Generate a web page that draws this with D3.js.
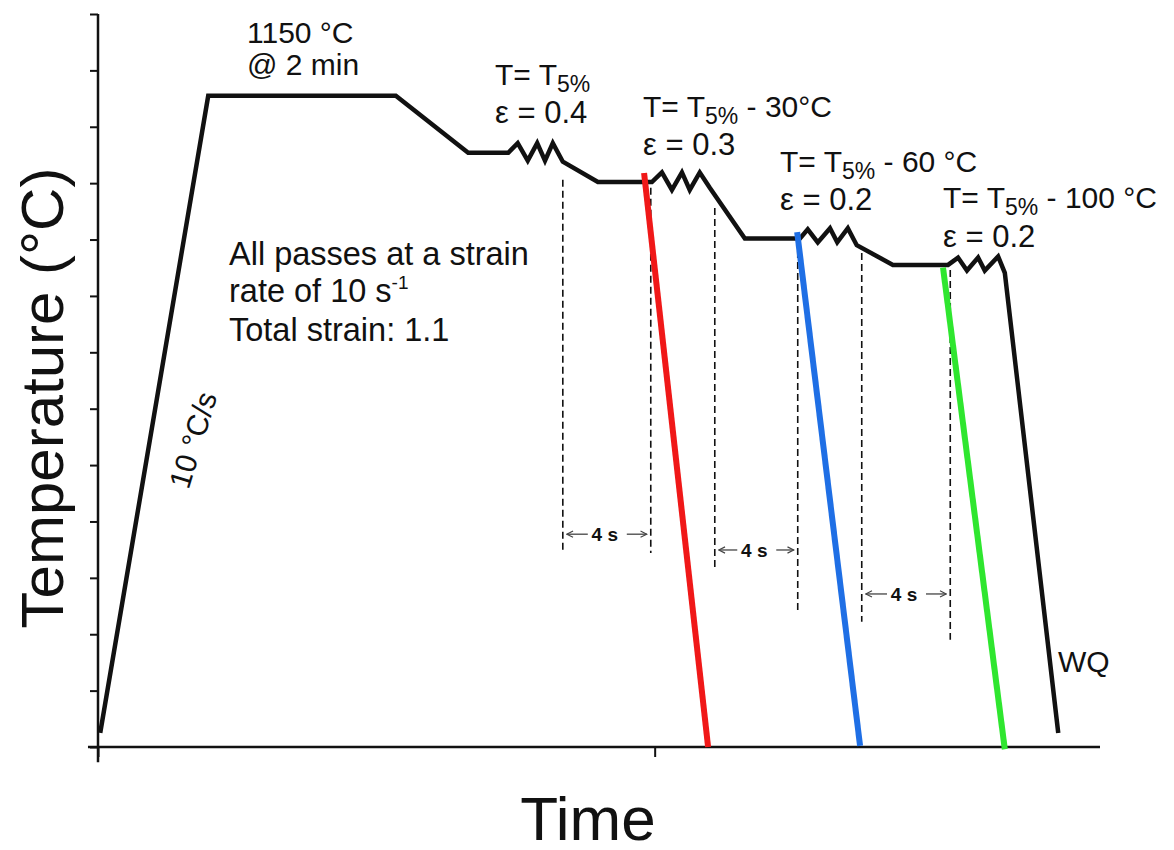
<!DOCTYPE html>
<html>
<head>
<meta charset="utf-8">
<style>
  body { margin: 0; background: #fff; }
  text { font-family: Arial, "Liberation Sans", sans-serif; fill: #111; }
</style>
</head>
<body>
<div id="chart"></div>
<script src="https://d3js.org/d3.v7.min.js"></script>
<script>
// Thermomechanical schedule: time (arbitrary units) vs temperature (°C)
const profileTime = [0.04, 1.98, 5.35, 6.65, 7.37, 7.54, 7.72, 7.89, 8.03, 8.17, 8.35, 8.98,
  9.95, 10.13, 10.31, 10.49, 10.63, 10.81, 10.99, 11.62,
  12.61, 12.75, 12.93, 13.15, 13.28, 13.47, 13.63, 14.28,
  15.27, 15.45, 15.61, 15.81, 15.93, 16.17, 16.29, 17.25];
const profileTemp = [25, 1155, 1155, 1054, 1054, 1071, 1040, 1071, 1040, 1071, 1038, 1002,
  1002, 1019, 988, 1019, 988, 1019, 992, 902,
  902, 918, 895, 920, 895, 920, 890, 855,
  855, 868, 845, 868, 845, 870, 841, 25];

// quench lines after each pass
const quenchStartTime = [9.81, 12.56, 15.18];
const quenchStartTemp = [1018, 913, 850];
const quenchEndTime = [10.96, 13.69, 16.29];
const quenchEndTemp = [0, 2, -4];
const quenchColors = ["#f01818", "#1f6fe5", "#2fe62f"];

// dashed markers for the 4 s holds
const markerTime = [8.35, 9.93, 11.08, 12.57, 13.72, 15.31];
const markerTop = [1006, 992, 956, 899, 876, 846];
const markerBottom = [344, 344, 317, 239, 222, 190];

const holdStart = [8.35, 11.08, 13.72];
const holdEnd = [9.93, 12.57, 15.31];
const holdTemp = [365, 337, 259];
const holdLabel = ["4 s", "4 s", "4 s"];

// pass annotations
const passPrefix = ["T= T", "T= T", "T= T", "T= T"];
const passSuffix = ["", " - 30°C", " - 60 °C", " - 100 °C"];
const passStrain = ["ε = 0.4", "ε = 0.3", "ε = 0.2", "ε = 0.2"];

const yTicks = d3.range(0, 1301, 100);
const xTicks = [0, 10];

const W = 1174, H = 850;
const svg = d3.select("#chart").append("svg").attr("width", W).attr("height", H);

const x = d3.scaleLinear().domain([0, 18]).range([98, 1100]);
const y = d3.scaleLinear().domain([0, 1300]).range([747, 14]);

// arrowhead for the hold spans
svg.append("defs").append("marker")
  .attr("id", "arr")
  .attr("viewBox", "0 0 10 10")
  .attr("refX", 9).attr("refY", 5)
  .attr("markerWidth", 6).attr("markerHeight", 6)
  .attr("orient", "auto-start-reverse")
  .append("path")
  .attr("d", "M1,1 L9,5 L1,9")
  .attr("fill", "none")
  .attr("stroke", "#444")
  .attr("stroke-width", 1.5);

// axes
const yAxis = svg.append("g")
  .attr("transform", "translate(" + x(0) + ",0)")
  .call(d3.axisLeft(y).tickValues(yTicks).tickSize(8).tickSizeOuter(0).tickFormat(""));
yAxis.select(".domain").remove();
yAxis.selectAll("line").attr("stroke", "#111").attr("stroke-width", 2);

const xAxis = svg.append("g")
  .attr("transform", "translate(0," + y(0) + ")")
  .call(d3.axisBottom(x).tickValues(xTicks).tickSize(10).tickSizeOuter(0).tickFormat(""));
xAxis.select(".domain").remove();
xAxis.selectAll("line").attr("stroke", "#111").attr("stroke-width", 2);

svg.append("line")
  .attr("x1", x(0)).attr("x2", x(0))
  .attr("y1", y(1300)).attr("y2", y(-27))
  .attr("stroke", "#111").attr("stroke-width", 2.5);
svg.append("line")
  .attr("x1", x(-0.18)).attr("x2", x(18))
  .attr("y1", y(0)).attr("y2", y(0))
  .attr("stroke", "#111").attr("stroke-width", 2.5);

// dashed markers
svg.selectAll(".marker")
  .data(markerTime)
  .enter()
  .append("line")
  .attr("class", "marker")
  .attr("x1", d => x(d)).attr("x2", d => x(d))
  .attr("y1", (d, i) => y(markerTop[i]))
  .attr("y2", (d, i) => y(markerBottom[i]))
  .attr("stroke", "#111")
  .attr("stroke-width", 1.6)
  .attr("stroke-dasharray", "7,4");

// hold labels with arrows
holdLabel.forEach(function (lab, i) {
  const x1 = x(holdStart[i]), x2 = x(holdEnd[i]);
  const m = (x1 + x2) / 2;
  const by = y(holdTemp[i]);
  svg.append("text")
    .attr("x", m - 2).attr("y", by)
    .attr("text-anchor", "middle")
    .style("font-size", "19px")
    .style("font-weight", "bold")
    .text(lab);
  [[x1 + 4, m - 19], [m + 20, x2 - 4]].forEach(function (seg, k) {
    svg.append("line")
      .attr("x1", k === 0 ? seg[1] : seg[0]).attr("x2", k === 0 ? seg[0] : seg[1])
      .attr("y1", by - 7).attr("y2", by - 7)
      .attr("stroke", "#444").attr("stroke-width", 1.3)
      .attr("marker-end", "url(#arr)");
  });
});

// profile
const line = d3.line()
  .x(d => x(d[0]))
  .y(d => y(d[1]));

svg.append("path")
  .datum(profileTime.map((t, i) => [t, profileTemp[i]]))
  .attr("d", line)
  .attr("fill", "none")
  .attr("stroke", "#111")
  .attr("stroke-width", 4.5)
  .attr("stroke-linejoin", "miter");

// quench lines
svg.selectAll(".quench")
  .data(quenchStartTime)
  .enter()
  .append("line")
  .attr("class", "quench")
  .attr("x1", d => x(d))
  .attr("y1", (d, i) => y(quenchStartTemp[i]))
  .attr("x2", (d, i) => x(quenchEndTime[i]))
  .attr("y2", (d, i) => y(quenchEndTemp[i]))
  .attr("stroke", (d, i) => quenchColors[i])
  .attr("stroke-width", 6);

// annotations
function label(px, py, txt, size) {
  return svg.append("text").attr("x", px).attr("y", py)
    .style("font-size", (size || 30) + "px").text(txt);
}

label(247, 43, "1150 °C");
label(247, 75, "@ 2 min");

const passPos = [[495, 85, 123], [643, 117, 155], [780, 172, 210], [943, 208, 247]];
passPrefix.forEach(function (p, i) {
  const t = svg.append("text")
    .attr("x", passPos[i][0]).attr("y", passPos[i][1])
    .style("font-size", "30px");
  t.append("tspan").text(p);
  t.append("tspan").attr("dy", 7).style("font-size", "23px").text("5%");
  if (passSuffix[i]) t.append("tspan").attr("dy", -7).text(passSuffix[i]);
  label(passPos[i][0], passPos[i][2], passStrain[i], 31);
});

label(229, 265, "All passes at a strain", 32.5);
const rate = svg.append("text").attr("x", 229).attr("y", 302).style("font-size", "32.5px");
rate.append("tspan").text("rate of 10 s");
rate.append("tspan").attr("dy", -13).style("font-size", "19px").text("-1");
label(229, 341, "Total strain: 1.1", 32.5);

svg.append("text")
  .attr("transform", "translate(203,443) rotate(-73)")
  .attr("text-anchor", "middle")
  .style("font-size", "30px")
  .text("10 °C/s");

label(1058, 672, "WQ");

// axis titles
svg.append("text")
  .attr("transform", "translate(63,398) rotate(-90)")
  .attr("text-anchor", "middle")
  .style("font-size", "60px")
  .text("Temperature (°C)");

svg.append("text")
  .attr("x", 588).attr("y", 840)
  .attr("text-anchor", "middle")
  .style("font-size", "62px")
  .text("Time");
</script>
</body>
</html>
